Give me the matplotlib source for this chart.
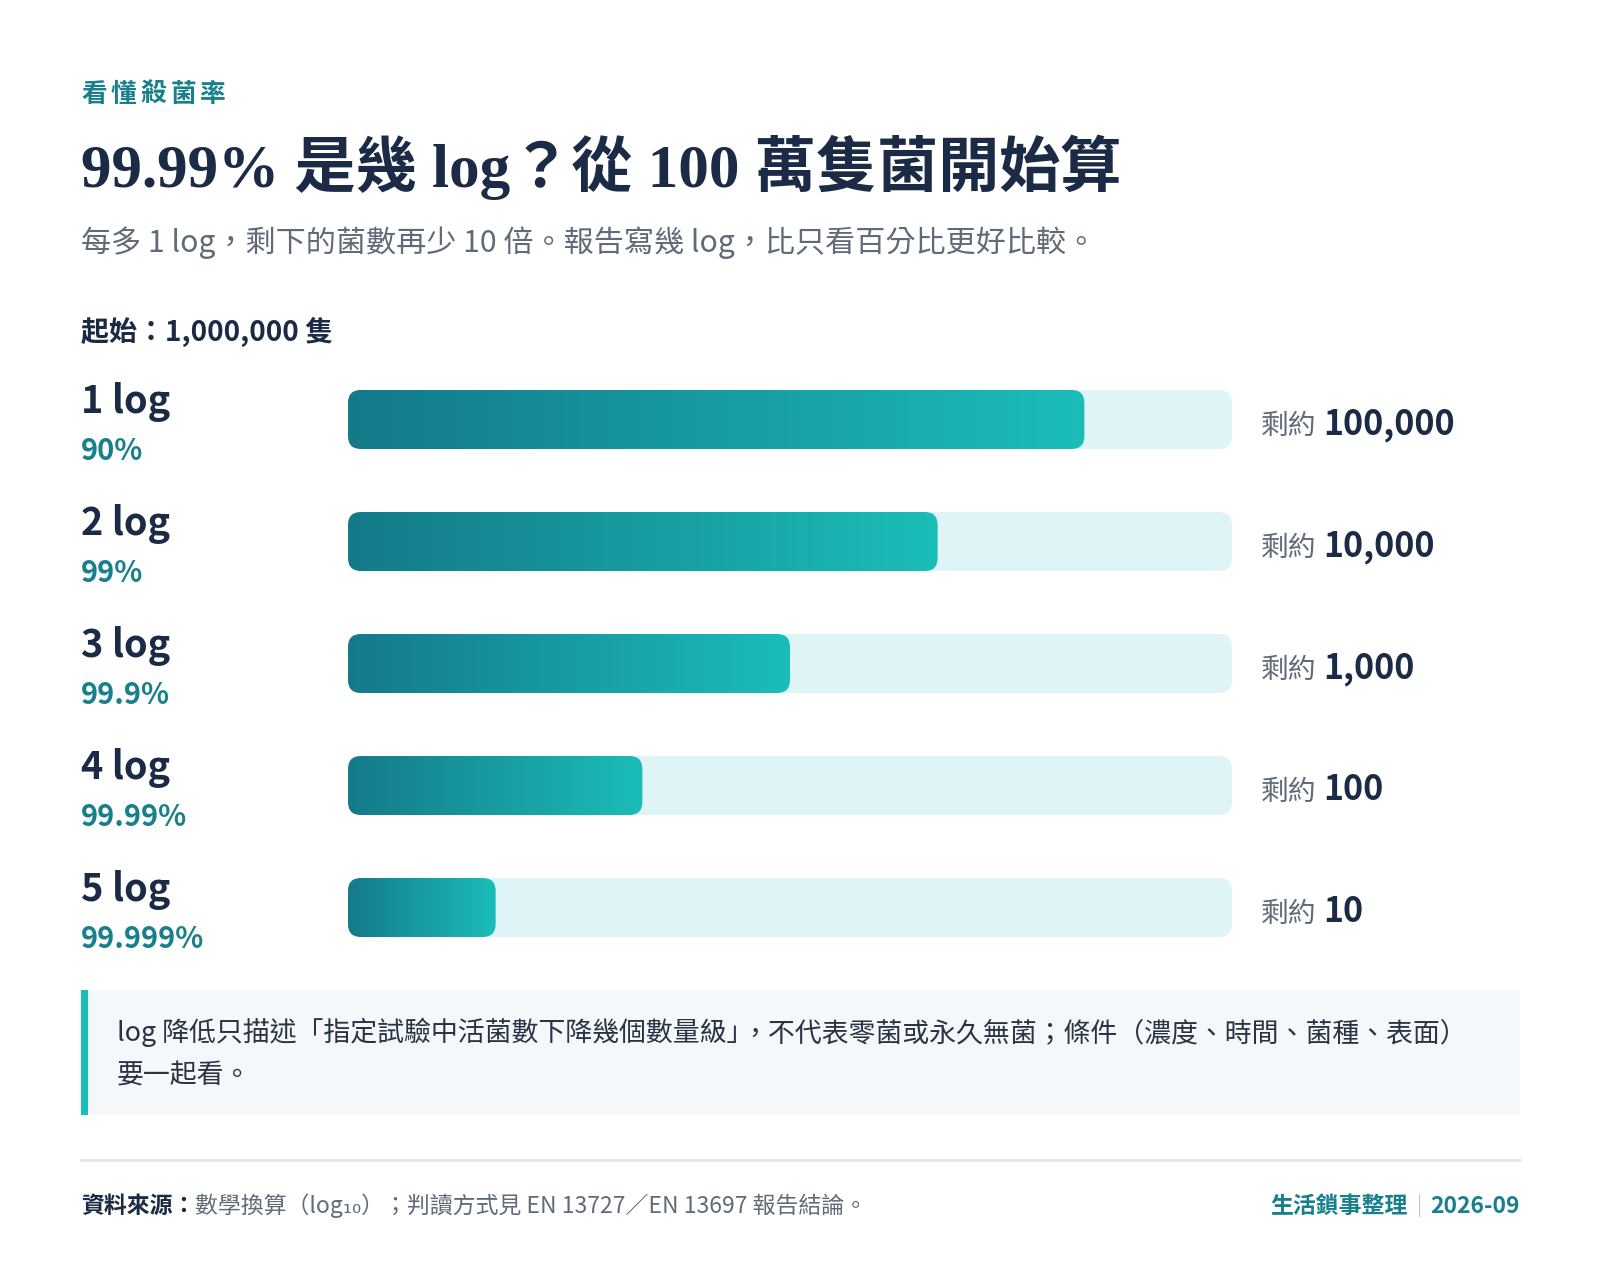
import numpy as np
import matplotlib
matplotlib.use("Agg")
import matplotlib.pyplot as plt
from matplotlib.patches import FancyBboxPatch, Rectangle
from matplotlib.colors import LinearSegmentedColormap

plt.rcParams['font.family'] = ['Noto Sans CJK TC', 'DejaVu Sans']

# data
log_labels = ["1 log", "2 log", "3 log", "4 log", "5 log"]
kill_pct = ["90%", "99%", "99.9%", "99.99%", "99.999%"]
remaining = ["100,000", "10,000", "1,000", "100", "10"]
bar_fill = [0.833, 0.667, 0.5, 0.333, 0.167]

kicker = "看懂殺菌率"
title = "99.99% 是幾 log？從 100 萬隻菌開始算"
subtitle = "每多 1 log，剩下的菌數再少 10 倍。報告寫幾 log，比只看百分比更好比較。"
start_label = "起始：1,000,000 隻"
note_line1a = "log 降低只描述「指定試驗中活菌數下降幾個數量級」"
note_line1b = "，不代表零菌或永久無菌；條件（濃度、時間、菌種、表面）"
note_line2 = "要一起看。"
source_head = "資料來源："
source_body = "數學換算（log₁₀）；判讀方式見 EN 13727／EN 13697 報告結論。"
brand = "生活鎖事整理"
date = "2026-09"

NAVY = "#1c2b45"
TEAL = "#17808c"
GRAY = "#5f6b78"
TRACK = "#dff4f7"
cmap = LinearSegmentedColormap.from_list("bar", ["#147a89", "#1bbdb9"])

W, H = 1600, 1276
fig = plt.figure(figsize=(W / 100, H / 100), dpi=100)
ax = fig.add_axes([0, 0, 1, 1])
ax.set_xlim(0, W)
ax.set_ylim(H, 0)
ax.axis("off")
renderer = fig.canvas.get_renderer()


def run(x, y, pieces, ha="left", gap=0):
    # draw text pieces side by side, measured with the renderer
    texts = [ax.text(0, y, s, va="baseline", **kw) for s, kw in pieces]
    widths = [t.get_window_extent(renderer).width + gap for t in texts]
    if ha == "right":
        x = x - sum(widths)
    for t, w in zip(texts, widths):
        t.set_x(x)
        x += w


L = 81
run(L, 102, [(c, dict(color=TEAL, fontsize=18.5, fontweight="bold")) for c in kicker], gap=4)
ax.text(L, 187, title, color=NAVY, fontsize=44, fontweight="bold", va="baseline",
        family=["Liberation Serif", "Noto Sans CJK TC"])
ax.text(L, 252, subtitle, color=GRAY, fontsize=21.7, va="baseline")
ax.text(L, 341, start_label, color=NAVY, fontsize=20.2, fontweight="bold", va="baseline")

x0, x1 = 348, 1232
bh = 59
y_first, step = 419.5, 122
grad = np.linspace(0, 1, 256).reshape(1, -1)
for i in range(len(log_labels)):
    yc = y_first + i * step
    ax.text(L, yc - 7, log_labels[i], color=NAVY, fontsize=27.3, fontweight="bold", va="baseline")
    ax.text(L, yc + 40.5, kill_pct[i], color=TEAL, fontsize=21, fontweight="bold", va="baseline")

    track = FancyBboxPatch((x0, yc - bh / 2), x1 - x0, bh,
                           boxstyle="round,pad=0,rounding_size=13", fc=TRACK, ec="none")
    ax.add_patch(track)
    fx = x0 + (x1 - x0) * bar_fill[i]
    fill = FancyBboxPatch((x0, yc - bh / 2), fx - x0, bh,
                          boxstyle="round,pad=0,rounding_size=13", fc="none", ec="none")
    ax.add_patch(fill)
    im = ax.imshow(grad, cmap=cmap, extent=(x0, fx, yc + bh / 2, yc - bh / 2),
                   aspect="auto", interpolation="bilinear", zorder=2)
    im.set_clip_path(fill)

    ax.text(1261, yc + 14.5, "剩約", color=GRAY, fontsize=20, va="baseline")
    ax.text(1323, yc + 14.5, remaining[i], color=NAVY, fontsize=24.5, fontweight="bold", va="baseline")

# note box
ax.add_patch(Rectangle((L, 990), 1520 - L, 125, fc="#f4f8fb", ec="none"))
ax.add_patch(Rectangle((L, 990), 7, 125, fc="#1bbdb8", ec="none"))
# closing bracket and comma sit tight together, as in the browser layout
t1 = ax.text(117, 1041, note_line1a, color="#2a3344", fontsize=19.4, va="baseline")
w1 = t1.get_window_extent(renderer).width
ax.text(117 + w1 - 12, 1041, note_line1b, color="#2a3344", fontsize=19.4, va="baseline")
ax.text(117, 1084, note_line2, color="#2a3344", fontsize=19.4, va="baseline")

# separator and footer
ax.plot([L, 1520], [1160, 1160], color="#e1e9ea", lw=2)
run(L, 1213, [(source_head, dict(color=NAVY, fontsize=16.5, fontweight="bold")),
              (source_body, dict(color=GRAY, fontsize=16.5))])
run(1520, 1213, [(brand, dict(color=TEAL, fontsize=16.5, fontweight="bold")),
                 ("｜", dict(color="#b8c2c8", fontsize=16.5)),
                 (date, dict(color=TEAL, fontsize=16.5, fontweight="bold"))], ha="right")

fig.savefig("out.png", dpi=100, facecolor="white")
